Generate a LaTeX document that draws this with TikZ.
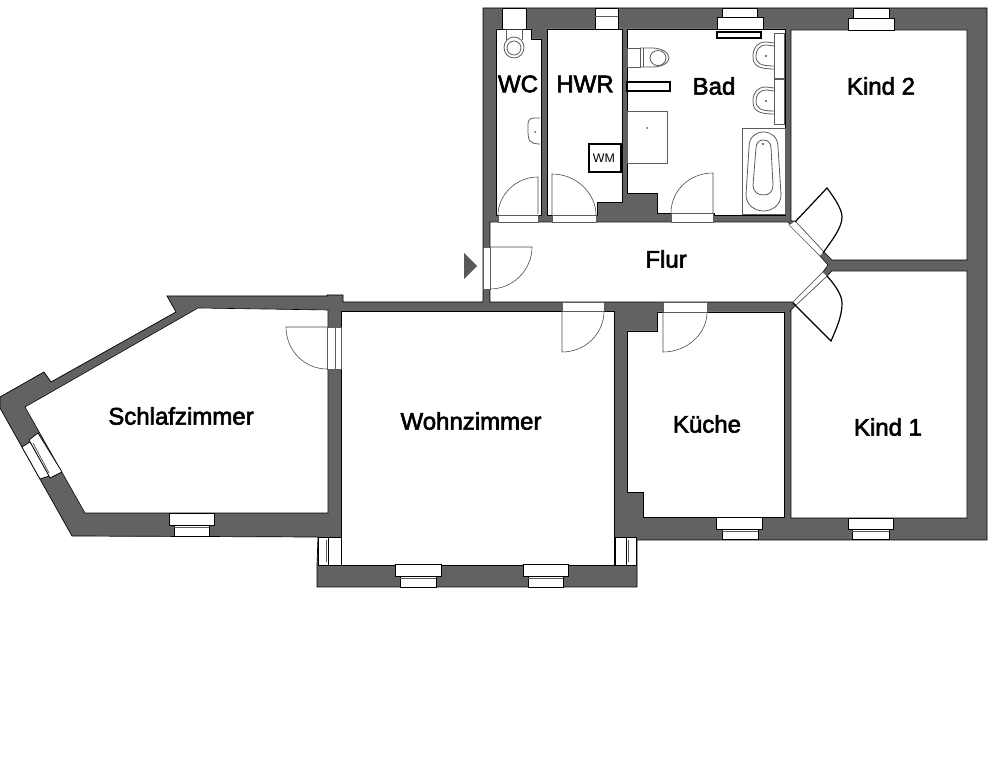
\documentclass[tikz,border=0pt]{standalone}
\usepackage{fontspec}
\setmainfont{Liberation Sans}
\newfontfamily\labelfont{Liberation Sans}[FakeBold=2.5]
\definecolor{wallgrey}{HTML}{626262}
\definecolor{thingrey}{HTML}{5c5c5c}
\tikzset{
  wall/.style = {fill=wallgrey, draw=black, line width=0.35pt},
  room/.style = {fill=white, draw=black, line width=0.3pt},
  opening/.style = {fill=white, draw=thingrey, line width=0.25pt},
  pane/.style = {fill=white, draw=black, line width=0.35pt},
  fixture/.style = {draw=thingrey, line width=0.4pt},
  darkfixture/.style = {draw=black!80, line width=0.4pt},
  heater/.style = {fill=white, draw=black, line width=1pt},
  leaf/.style = {draw=black!70, line width=0.3pt},
  bigleaf/.style = {draw=black, line width=0.6pt},
  roomlabel/.style = {font=\labelfont\fontsize{12}{14}\selectfont, inner sep=0pt}
}
\begin{document}
\begin{tikzpicture}[x=0.5pt,y=-0.5pt]
    \useasboundingbox (0,0) rectangle (1000,763);
    % outline of the whole flat
    \draw[wall] (483,8) -- (987,8) -- (987,540) -- (637,540) -- (637,587) -- (317,587) -- (317,565)
        -- (318,537) -- (72,536) -- (0,408) -- (0,397) -- (44,372) -- (51,382) -- (176,312)
        -- (167,296) -- (327,296) -- (327,295) -- (343,295) -- (343,302) -- (483,302) -- cycle;
    % rooms
    \draw[room] (496,29) -- (531,29) -- (531,39) -- (541,39) -- (541,215) -- (496,215) -- cycle;
    \draw[room] (547,29) -- (622,29) -- (622,202) -- (597,202) -- (597,215) -- (547,215) -- cycle;
    \draw[room] (627,29) -- (785,29) -- (785,215) -- (714,215) -- (714,213) -- (657,213) -- (657,193) -- (627,193) -- cycle;
    \draw[room] (791,30) -- (967,30) -- (967,260) -- (832,260) -- (824,252) -- (795,221) -- (791,221) -- cycle;
    \draw[room] (490,222) -- (788,222) -- (820,256) -- (828,265) -- (823,272) -- (793,302) -- (490,302) -- cycle;
    \draw[room] (790,311) -- (796,305) -- (827,276) -- (832,271) -- (967,271) -- (967,518) -- (791,518) -- (791,311) -- cycle;
    \draw[room] (627,331) -- (657,331) -- (657,312) -- (784,312) -- (784,517) -- (643,517) -- (643,492) -- (627,492) -- cycle;
    \draw[room] (341,311) -- (614,311) -- (614,565) -- (341,565) -- cycle;
    \draw[room] (198,308) -- (328,310) -- (328,513) -- (85,513) -- (25,407) -- cycle;
    % door openings
    \foreach \xa/\ya/\xb/\yb in {498/215/538/222, 552/215/596/222, 671/213/713/222, 562/302/604/311,
        663/302/707/312, 483/247/490/289, 327/327/335/369, 335/327/341/369}
        \draw[opening] (\xa,\ya) rectangle (\xb,\yb);
    \draw[opening] (789,225) -- (795,221) -- (824,252) -- (820,256) -- cycle;
    \draw[opening] (793,302) -- (823,272) -- (827,276) -- (796,305) -- cycle;
    % windows, inner and outer part
    \foreach \xa/\xb/\xc/\xd/\ya/\yb/\yc in {169/214/174/209/513/525/536, 395/441/400/436/564/576/587,
        523/568/528/563/564/576/587, 716/762/722/758/517/529/539, 848/893/852/889/518/529/539}{
        \draw[pane] (\xa,\ya) rectangle (\xb,\yb);
        \draw[pane] (\xc,\yb) rectangle (\xd,\yc);
        \draw[fixture] (\xc,\yb+2) -- (\xd,\yb+2);
    }
    \foreach \xa/\xb/\xc/\xd/\ya/\yb/\yc in {717/763/722/757/29/17/8, 848/894/853/889/30/18/8}{
        \draw[pane] (\xa,\ya) rectangle (\xb,\yb);
        \draw[pane] (\xc,\yb) rectangle (\xd,\yc);
    }
    \draw[pane] (502,8) rectangle (526,29);
    \draw[pane] (595,8) rectangle (618,29);
    \draw[fixture] (595,16) -- (618,16);
    \draw[pane] (328,537) rectangle (341,565);
    \draw[pane] (318,537) rectangle (328,565);
    \draw[fixture] (326,540) -- (326,562);
    \draw[pane] (615,537) rectangle (626,565);
    \draw[pane] (626,537) rectangle (636,565);
    \draw[fixture] (628,540) -- (628,562);
    \draw[pane] (29,440) -- (38,433) -- (62,472) -- (50,478) -- cycle;
    \draw[pane] (22,447) -- (30,442) -- (49,476) -- (40,479) -- cycle;
    \draw[fixture] (33,443) -- (49,473);
    % doors
    \draw[leaf] (538,214) -- (538,177) .. controls (516,177) and (498,195) .. (498,215);
    \draw[leaf] (552,215) -- (552,174) .. controls (576,174) and (596,193) .. (596,215);
    \draw[leaf] (713,213) -- (713,173) .. controls (689,173) and (671,191) .. (671,213);
    \draw[leaf] (490,247) -- (532,247) .. controls (532,270) and (513,289) .. (490,289);
    \draw[leaf] (663,312) -- (663,352) .. controls (687,352) and (707,334) .. (707,312);
    \draw[leaf] (562,311) -- (562,352) .. controls (585,352) and (604,334) .. (604,311);
    \draw[leaf] (327,327) -- (286,327) .. controls (286,350) and (304,369) .. (327,369);
    \draw[bigleaf] (795,222) -- (827,188) .. controls (836,200) and (842,210) .. (842,217)
        .. controls (842,228) and (832,240) .. (823,253);
    \draw[bigleaf] (793,303) -- (831,341) .. controls (838,325) and (842,315) .. (842,303)
        .. controls (842,295) and (835,285) .. (827,276);
    \fill[black!65] (464,253) -- (477,266) -- (464,279) -- cycle;
    % WC
    \draw[darkfixture] (505,29) -- (523,29);
    \draw[fixture] (506,29) -- (506,40);
    \draw[fixture] (522,29) -- (522,40);
    \draw[fixture] (514,47.5) ellipse (10 and 10.5);
    \draw[fixture] (514,48) ellipse (7 and 7);
    \draw[fixture] (540,118) -- (534,118) .. controls (527,119) and (528,122) .. (528,130)
        .. controls (528,140) and (529,144) .. (540,144);
    \fill[thingrey] (535,132) circle (1);
    % HWR
    \draw[heater] (589,144) rectangle (621,172);
    \node[inner sep=0pt, font=\fontsize{6.2}{7}\selectfont] (wm) at (604,158.5) {WM};
    % Bad
    \draw[heater] (717,32) rectangle (761,38);
    \draw[heater] (627,82) rectangle (670,91);
    \draw[fixture] (627,48) rectangle (640,67);
    \draw[fixture] (640,48) -- (652,48) .. controls (662,48) and (669,53) .. (669,58)
        .. controls (669,63) and (662,67) .. (652,67) -- (640,67);
    \draw[fixture] (643,48) -- (643,67);
    \draw[fixture] (658,58) ellipse (8 and 7.5);
    \draw[fixture] (627,111) rectangle (667,163);
    \fill[thingrey] (647,128) circle (1);
    \foreach \ya in {33,79}
        \draw[fixture] (774,\ya) rectangle (784,\ya+45);
    \foreach \ya in {56,101}{
        \draw[fixture] (774,\ya-13) -- (766,\ya-14) .. controls (757,\ya-14) and (753,\ya-8) .. (753,\ya)
            .. controls (753,\ya+9) and (757,\ya+13) .. (774,\ya+13);
        \draw[fixture] (774,\ya-10) -- (767,\ya-11) .. controls (759,\ya-11) and (756,\ya-6) .. (756,\ya)
            .. controls (756,\ya+7) and (760,\ya+10) .. (774,\ya+10);
        \fill[black!70] (766,\ya) circle (1.2);
    }
    \draw[fixture] (742,128) rectangle (785,214);
    \draw[fixture] (749,147) .. controls (749,137) and (756,132) .. (763.5,132)
        .. controls (771,132) and (778,137) .. (778,147) -- (781,195)
        .. controls (781,205) and (772,211) .. (763.5,211)
        .. controls (755,211) and (746,205) .. (746,195) -- cycle;
    \draw[fixture] (756,148) .. controls (756,143) and (759,140) .. (763.5,140)
        .. controls (768,140) and (771,143) .. (771,148) -- (773,185)
        .. controls (773,192) and (769,195) .. (763.5,195)
        .. controls (758,195) and (753,192) .. (753,185) -- cycle;
    \fill[black!70] (763,144) circle (1.2);
    % room names
    \node[roomlabel] (wc) at (518,84) {WC};
    \node[roomlabel] (hwr) at (585,84) {HWR};
    \node[roomlabel] (bad) at (714,86) {Bad};
    \node[roomlabel] (kind2) at (881,86) {Kind 2};
    \node[roomlabel] (flur) at (666,259) {Flur};
    \node[roomlabel] (schlafzimmer) at (181,416) {Schlafzimmer};
    \node[roomlabel] (wohnzimmer) at (471,421) {Wohnzimmer};
    \node[roomlabel] (kueche) at (707,424) {Küche};
    \node[roomlabel] (kind1) at (888,427) {Kind 1};
\end{tikzpicture}
\end{document}
